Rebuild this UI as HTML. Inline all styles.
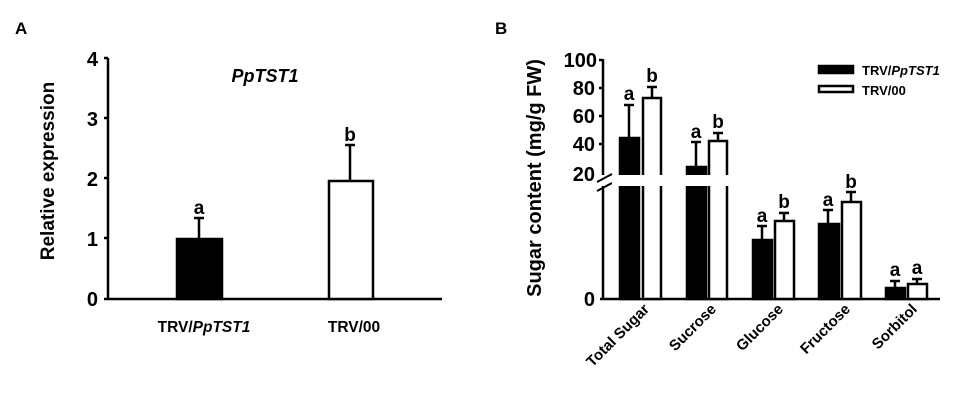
<!DOCTYPE html>
<html><head><style>body{margin:0;background:#fff}svg{display:block}text{font-family:"Liberation Sans",sans-serif;font-weight:bold;fill:#000}</style></head><body>
<svg width="972" height="401" viewBox="0 0 972 401" xmlns="http://www.w3.org/2000/svg">
<g stroke="#000" stroke-width="2.5" fill="none">
<line x1="108" y1="58" x2="108" y2="299"/>
<line x1="104" y1="299" x2="442" y2="299"/>
<line x1="104" y1="58" x2="108" y2="58"/><line x1="104" y1="118" x2="108" y2="118"/><line x1="104" y1="178" x2="108" y2="178"/><line x1="104" y1="238" x2="108" y2="238"/>
<line x1="199" y1="238" x2="199" y2="218"/><line x1="194" y1="218" x2="204" y2="218"/>
<line x1="350" y1="181" x2="350" y2="145"/><line x1="345" y1="145" x2="355" y2="145"/>
<rect x="177" y="239" width="45" height="60" fill="#000"/>
<rect x="329" y="181" width="44" height="118" fill="#fff"/>
<line x1="603" y1="59" x2="603" y2="175"/>
<line x1="603" y1="186" x2="603" y2="299"/>
<line x1="600" y1="299" x2="940" y2="299"/>
<line x1="599" y1="60" x2="603" y2="60"/><line x1="599" y1="88" x2="603" y2="88"/><line x1="599" y1="116" x2="603" y2="116"/><line x1="599" y1="144" x2="603" y2="144"/>
<line x1="597" y1="182" x2="612" y2="174" stroke-width="2"/><line x1="597" y1="191" x2="612" y2="183" stroke-width="2"/>
<line x1="629" y1="137" x2="629" y2="105"/><line x1="624" y1="105" x2="634" y2="105"/>
<line x1="652" y1="98" x2="652" y2="87"/><line x1="647" y1="87" x2="657" y2="87"/>
<line x1="696" y1="167" x2="696" y2="142"/><line x1="691" y1="142" x2="701" y2="142"/>
<line x1="718" y1="141" x2="718" y2="133"/><line x1="713" y1="133" x2="723" y2="133"/>
<line x1="762" y1="240" x2="762" y2="226"/><line x1="757" y1="226" x2="767" y2="226"/>
<line x1="784" y1="221" x2="784" y2="213"/><line x1="779" y1="213" x2="789" y2="213"/>
<line x1="828" y1="224" x2="828" y2="210"/><line x1="823" y1="210" x2="833" y2="210"/>
<line x1="851" y1="201" x2="851" y2="192"/><line x1="846" y1="192" x2="856" y2="192"/>
<line x1="895" y1="287" x2="895" y2="281"/><line x1="890" y1="281" x2="900" y2="281"/>
<line x1="917" y1="283" x2="917" y2="279"/><line x1="912" y1="279" x2="922" y2="279"/>
<rect x="620" y="138" width="19" height="161" fill="#000"/>
<rect x="643" y="98" width="18" height="201" fill="#fff"/>
<rect x="687" y="167" width="19" height="132" fill="#000"/>
<rect x="709" y="141" width="18" height="158" fill="#fff"/>
<rect x="753" y="240" width="19" height="59" fill="#000"/>
<rect x="775" y="221" width="19" height="78" fill="#fff"/>
<rect x="819" y="224" width="20" height="75" fill="#000"/>
<rect x="842" y="202" width="19" height="97" fill="#fff"/>
<rect x="886" y="288" width="19" height="11" fill="#000"/>
<rect x="908" y="284" width="19" height="15" fill="#fff"/>
<rect x="819" y="66" width="34" height="7" fill="#000"/>
<rect x="819" y="86" width="34" height="6" fill="#fff"/>
</g>
<rect x="612" y="175" width="120" height="11" fill="#fff"/>
<text x="15" y="34" font-size="17">A</text>
<text x="495" y="34" font-size="17">B</text>
<g font-size="20" text-anchor="end">
<text x="98" y="66">4</text><text x="98" y="126">3</text><text x="98" y="186">2</text><text x="98" y="246">1</text><text x="98" y="306">0</text>
<text x="597" y="67">100</text><text x="595" y="95">80</text><text x="595" y="123">60</text><text x="595" y="151">40</text><text x="595" y="181">20</text><text x="595" y="306">0</text>
</g>
<text x="265" y="82" font-size="18" font-style="italic" text-anchor="middle">PpTST1</text>
<text transform="translate(54,171) rotate(-90)" font-size="19" text-anchor="middle">Relative expression</text>
<text transform="translate(541,178) rotate(-90)" font-size="20" text-anchor="middle">Sugar content (mg/g FW)</text>
<text x="204" y="332" font-size="15.5" text-anchor="middle">TRV/<tspan font-style="italic">PpTST1</tspan></text>
<text x="354" y="332" font-size="15.5" text-anchor="middle">TRV/00</text>
<g font-size="19" text-anchor="middle">
<text x="199" y="214">a</text><text x="350" y="141">b</text>
<text x="629" y="100">a</text><text x="652" y="82">b</text>
<text x="696" y="138">a</text><text x="718" y="128">b</text>
<text x="762" y="222">a</text><text x="784" y="208">b</text>
<text x="828" y="206">a</text><text x="851" y="188">b</text>
<text x="895" y="276">a</text><text x="917" y="274">a</text>
</g>
<text x="862" y="75" font-size="13">TRV/<tspan font-style="italic">PpTST1</tspan></text>
<text x="862" y="95" font-size="13">TRV/00</text>
<g font-size="15" text-anchor="end">
<text transform="translate(650,310) rotate(-45)">Total Sugar</text>
<text transform="translate(717,310) rotate(-45)">Sucrose</text>
<text transform="translate(784,310) rotate(-45)">Glucose</text>
<text transform="translate(851,310) rotate(-45)">Fructose</text>
<text transform="translate(918,310) rotate(-45)">Sorbitol</text>
</g>
</svg>
</body></html>
